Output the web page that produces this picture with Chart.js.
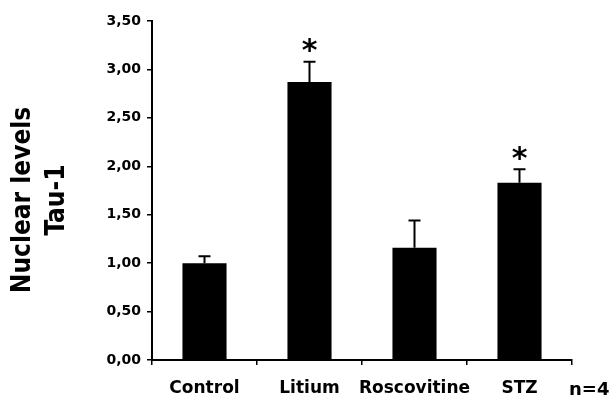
<!DOCTYPE html>
<html>
<head>
<meta charset="utf-8">
<script src="https://cdn.jsdelivr.net/npm/chart.js@4/dist/chart.umd.min.js"></script>
<style>
html, body { margin: 0; padding: 0; background: #fff; }
canvas { display: block; }
</style>
</head>
<body>
<canvas id="tauChart" width="612" height="400"></canvas>
<script>
// ---- data ----
const groups = ['Control', 'Litium', 'Roscovitine', 'STZ'];
const tauLevels = [1.00, 2.87, 1.16, 1.83];
const tauErrors = [0.07, 0.21, 0.28, 0.14];
const significant = [false, true, false, true];
const yTicks = [0, 0.5, 1, 1.5, 2, 2.5, 3, 3.5];
const yTitle = ['Nuclear levels', 'Tau-1'];
const sampleNote = 'n=4';

Chart.defaults.font.family = "'DejaVu Sans', sans-serif";
Chart.defaults.color = '#000';

/* error bars (upper only) + significance stars */
const errorBarPlugin = {
    id: 'errorBars',
    afterDatasetsDraw(chart) {
        const ctx = chart.ctx;
        const meta = chart.getDatasetMeta(0);
        const yScale = chart.scales.y;
        ctx.save();
        ctx.strokeStyle = '#000';
        ctx.fillStyle = '#000';
        ctx.lineWidth = 2;
        meta.data.forEach((bar, i) => {
            const yCap = yScale.getPixelForValue(tauLevels[i] + tauErrors[i]);
            ctx.beginPath();
            ctx.moveTo(bar.x, bar.y);
            ctx.lineTo(bar.x, yCap);
            ctx.moveTo(bar.x - 6, yCap);
            ctx.lineTo(bar.x + 6, yCap);
            ctx.stroke();

            if (significant[i]) {
                ctx.font = "bold 30px 'DejaVu Sans'";
                ctx.textAlign = 'center';
                ctx.textBaseline = 'alphabetic';
                const m = ctx.measureText('*');
                const mid = (m.actualBoundingBoxAscent - m.actualBoundingBoxDescent) / 2;
                ctx.fillText('*', bar.x, yCap - 16 + mid);
            }
        });
        ctx.restore();
    }
};

/* rotated two-line y title and the n=4 note */
const textPlugin = {
    id: 'extraText',
    afterDraw(chart) {
        const ctx = chart.ctx;
        ctx.save();
        ctx.fillStyle = '#000';
        ctx.font = "bold 26px 'DejaVu Sans Condensed'";
        ctx.textAlign = 'center';
        ctx.textBaseline = 'middle';
        const xs = [23, 57];
        yTitle.forEach((line, i) => {
            ctx.save();
            ctx.translate(xs[i], 200);
            ctx.rotate(-Math.PI / 2);
            ctx.fillText(line, 0, 0);
            ctx.restore();
        });

        ctx.font = "bold 18px 'DejaVu Sans'";
        ctx.textAlign = 'left';
        ctx.textBaseline = 'alphabetic';
        ctx.fillText(sampleNote, 569, 395);
        ctx.restore();
    }
};

new Chart(document.getElementById('tauChart'), {
    type: 'bar',
    data: {
        labels: groups,
        datasets: [{
            data: tauLevels,
            backgroundColor: '#000',
            borderWidth: 0,
            barPercentage: 0.42,
            categoryPercentage: 1
        }]
    },
    options: {
        responsive: false,
        animation: false,
        devicePixelRatio: 1,
        layout: { padding: { left: 0, right: 40, top: 21, bottom: 0 } },
        plugins: {
            legend: { display: false },
            tooltip: { enabled: false }
        },
        scales: {
            x: {
                afterFit: (s) => { s.height = 40; },
                grid: {
                    drawOnChartArea: false,
                    drawTicks: true,
                    tickLength: 5,
                    color: '#000',
                    lineWidth: 1.5,
                    offset: true
                },
                border: { display: true, color: '#000', width: 2 },
                ticks: {
                    color: '#000',
                    padding: 13,
                    autoSkip: false,
                    maxRotation: 0,
                    minRotation: 0,
                    font: { size: 17, weight: 'bold' }
                }
            },
            y: {
                min: 0,
                max: 3.5,
                afterFit: (s) => { s.width = 152; },
                afterBuildTicks: (s) => { s.ticks = yTicks.map(v => ({ value: v })); },
                grid: {
                    drawOnChartArea: false,
                    drawTicks: true,
                    tickLength: 5,
                    color: '#000',
                    lineWidth: 1.5
                },
                border: { display: true, color: '#000', width: 2 },
                ticks: {
                    color: '#000',
                    padding: 6,
                    font: { size: 14, weight: 'bold' },
                    callback: (v) => Number(v).toFixed(2).replace('.', ',')
                }
            }
        }
    },
    plugins: [errorBarPlugin, textPlugin]
});
</script>
</body>
</html>
